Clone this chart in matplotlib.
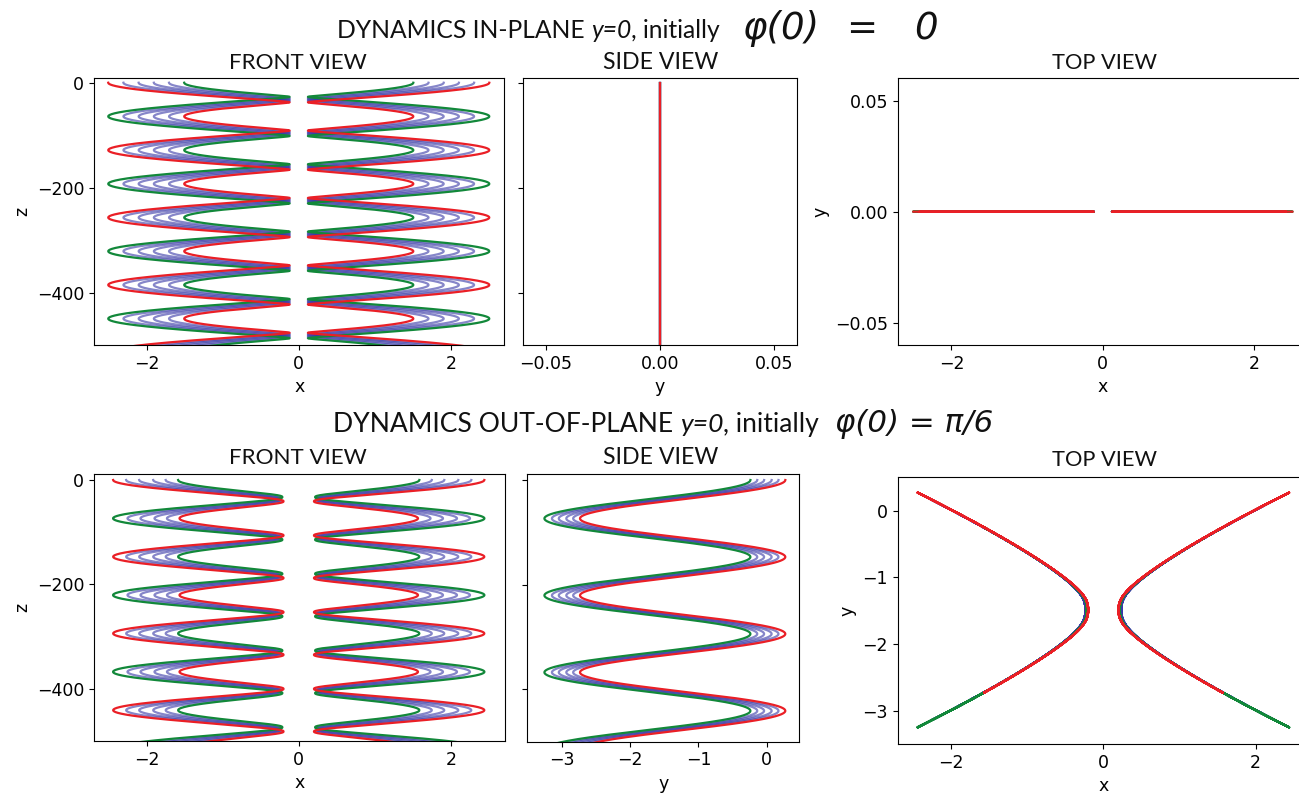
import numpy as np
import matplotlib
matplotlib.use('Agg')
import matplotlib.pyplot as plt
from matplotlib.transforms import IdentityTransform

# ---------------- values ----------------
# order of the six trajectories: red, four blue, green
traj_names = ['red', 'blue1', 'blue2', 'blue3', 'blue4', 'green']
traj_colors = ['#ea1f26', '#3535a5', '#3535a5', '#3535a5', '#3535a5', '#12883a']
traj_alpha = [1.0, 0.6, 0.6, 0.6, 0.6, 1.0]

# Row 1, in-plane (y = 0): |x| at the first and at the second outer turning point
row1_outer_first = [2.50, 2.30, 2.10, 1.90, 1.70, 1.50]
row1_outer_second = [1.50, 1.70, 1.90, 2.10, 2.30, 2.50]
row1_inner_x = 0.12          # |x| at the sharp inner turning points
row1_period_z = 128.5        # z distance between two big swings of one trajectory

# Row 2, out-of-plane: side-view y at the first and at the second turning point
row2_y_first = [0.27, 0.17, 0.07, -0.04, -0.14, -0.24]
row2_y_second = [-2.73, -2.83, -2.93, -3.04, -3.14, -3.25]
row2_y_vertex = -1.49        # y of the vertex of the top-view branches
row2_vertex_x = [0.20, 0.235, 0.235, 0.235, 0.235, 0.215]   # |x| at the vertex
row2_far_point = (1.76, 2.43)    # (y distance from vertex, |x|) far end of a branch
row2_near_point = (1.25, 1.57)   # (y distance from vertex, |x|) near end of a branch
row2_period_z = 147.0

z_start, z_end = 0.0, -520.0

title1_main = ['DYNAMICS IN-PLANE', 'y=0', ', initially']
title1_phi = ['\u03c6(0)', '=', '0']
title2_main = ['DYNAMICS OUT-OF-PLANE', 'y=0', ', initially']
title2_phi = '\u03c6(0) = \u03c0/6'
panel_titles = ['FRONT VIEW', 'SIDE VIEW', 'TOP VIEW']

# ---------------- build trajectories ----------------
z = np.linspace(z_start, z_end, 8000)


def row1_curve(i):
    f, s = row1_outer_first[i], row1_outer_second[i]
    c, U = (f - s) / 2.0, (f + s) / 2.0
    th = 2 * np.pi * (z_start - z) / row1_period_z
    D = c + U * np.cos(th)
    xa = np.sqrt(row1_inner_x ** 2 + D ** 2)
    return xa, np.zeros_like(z)


(df, xf), (dn, xn) = row2_far_point, row2_near_point
p_exp = np.log(xf / xn) / np.log(df / dn)
k_fac = xf / df ** p_exp


def row2_curve(i):
    yf, ys = row2_y_first[i], row2_y_second[i]
    m, A = (yf + ys) / 2.0, (yf - ys) / 2.0
    th = 2 * np.pi * (z_start - z) / row2_period_z
    y = m + A * np.cos(th)
    D = y - row2_y_vertex
    xa = np.sqrt(row2_vertex_x[i] ** 2 + (k_fac * np.abs(D) ** p_exp) ** 2)
    return xa, y


W, H, DPI = 1299, 793, 100
plt.rcParams['font.family'] = ['DejaVu Sans']
plt.rcParams['xtick.labelsize'] = 12.5
plt.rcParams['ytick.labelsize'] = 12.5
plt.rcParams['axes.labelsize'] = 12.5
fig = plt.figure(figsize=(W / DPI, H / DPI), dpi=DPI)


def add_ax(l, t, r, b):
    return fig.add_axes([l / W, 1 - b / H, (r - l) / W, (b - t) / H])


ax_f1 = add_ax(94, 78, 504.3, 345)
ax_s1 = add_ax(523.3, 78.3, 796.7, 345)
ax_t1 = add_ax(897.7, 78.3, 1308, 345)
ax_f2 = add_ax(94, 474, 505, 741)
ax_s2 = add_ax(527.3, 474, 799, 741.7)
ax_t2 = add_ax(897.7, 477.3, 1309, 744)

order = [1, 2, 3, 4, 5, 0]   # blue first, then green, red on top
LW = 1.6
for i in order:
    kw = dict(color=traj_colors[i], alpha=traj_alpha[i], lw=LW)
    xa, y = row1_curve(i)
    for sgn in (-1, 1):
        ax_f1.plot(sgn * xa, z, **kw)
        ax_t1.plot(sgn * xa, y, **kw)
    ax_s1.plot(y, z, **kw)
    xa, y = row2_curve(i)
    for sgn in (-1, 1):
        ax_f2.plot(sgn * xa, z, **kw)
        ax_t2.plot(sgn * xa, y, **kw)
    ax_s2.plot(y, z, **kw)

for ax in (ax_f1, ax_s1):
    ax.set_ylim(-500, 9)
for ax in (ax_f2, ax_s2):
    ax.set_ylim(-500, 11.5)
for ax in (ax_f1, ax_s1, ax_f2, ax_s2):
    ax.set_yticks([0, -200, -400])
ax_f1.set_xlim(-2.69, 2.70)
ax_f2.set_xlim(-2.69, 2.71)
for ax in (ax_f1, ax_f2, ax_t1, ax_t2):
    ax.set_xticks([-2, 0, 2])
ax_s1.set_xlim(-0.0598, 0.0598)
ax_s1.set_xticks([-0.05, 0.0, 0.05])
ax_s2.set_xlim(-3.50, 0.47)
ax_s2.set_xticks([-3, -2, -1, 0])
for ax in (ax_s1, ax_s2):
    ax.tick_params(labelleft=False)
ax_t1.set_xlim(-2.71, 2.71)
ax_t1.set_ylim(-0.06, 0.06)
ax_t1.set_yticks([-0.05, 0.0, 0.05])
ax_t2.set_xlim(-2.70, 2.70)
ax_t2.set_ylim(-3.5, 0.5)
ax_t2.set_yticks([0, -1, -2, -3])

for ax in (ax_f1, ax_f2):
    ax.set_xlabel('x')
    ax.set_ylabel('z')
for ax in (ax_s1, ax_s2):
    ax.set_xlabel('y')
for ax in (ax_t1, ax_t2):
    ax.set_xlabel('x')
    ax.set_ylabel('y')

# ---------------- text placed to the reference's extents ----------------
TF = ['Lato', 'DejaVu Sans']
PF = ['DejaVu Sans']
renderer = fig.canvas.get_renderer()


def mk(s, fam, sty, size, x, yb, ha='left'):
    return fig.text(x, H - yb, s, family=fam, style=sty, fontsize=size,
                    transform=IdentityTransform(), ha=ha, va='baseline',
                    color='#111111')


def place_run(pieces, x0, x1, ybase):
    items = []
    for p in pieces:
        if p[0] == 'gap':
            items.append(('gap', p[1], p[2]))
        else:
            s, fam, sty, rel = p
            items.append(('t', mk(s, fam, sty, 10 * rel, 0, 0), rel))

    def widths(f):
        out = []
        for kind, obj, rel in items:
            if kind == 'gap':
                out.append(obj * 10 * rel * f * DPI / 72)
            else:
                obj.set_fontsize(10 * rel * f)
                out.append(obj.get_window_extent(renderer).width)
        return out

    w = widths(1.0)
    f = (x1 - x0) / sum(w)
    w = widths(f)
    x = x0
    for (kind, obj, rel), wi in zip(items, w):
        if kind == 't':
            obj.set_position((x, H - ybase))
        x += wi
    return 10 * f


def main_run(main, x0, x1, yb):
    return place_run([(main[0], TF, 'normal', 1), ('gap', 0.25, 1),
                      (main[1], TF, 'italic', 1), (main[2], TF, 'normal', 1)], x0, x1, yb)


main_run(title2_main, 333, 816, 432)
phi_size = place_run([(title2_phi, PF, 'italic', 1)], 835, 993, 432)

main_run(title1_main, 337, 717, 38)
big = phi_size * 1.2
mk(title1_phi[0], PF, 'italic', big, 742, 39)
mk(title1_phi[1], PF, 'italic', big, 862, 39, ha='center')
mk(title1_phi[2], PF, 'italic', big, 938, 39, ha='right')

row1_title_pos = [(229, 366), (603, 717), (1052, 1156)]
for (a, b), s in zip(row1_title_pos, panel_titles):
    place_run([(s, TF, 'normal', 1)], a, b, 69)
row2_title_pos = [(229, 366, 464), (603, 717, 464), (1052, 1156, 466)]
for (a, b, yb), s in zip(row2_title_pos, panel_titles):
    place_run([(s, TF, 'normal', 1)], a, b, yb)

fig.savefig('out.png', dpi=DPI)
